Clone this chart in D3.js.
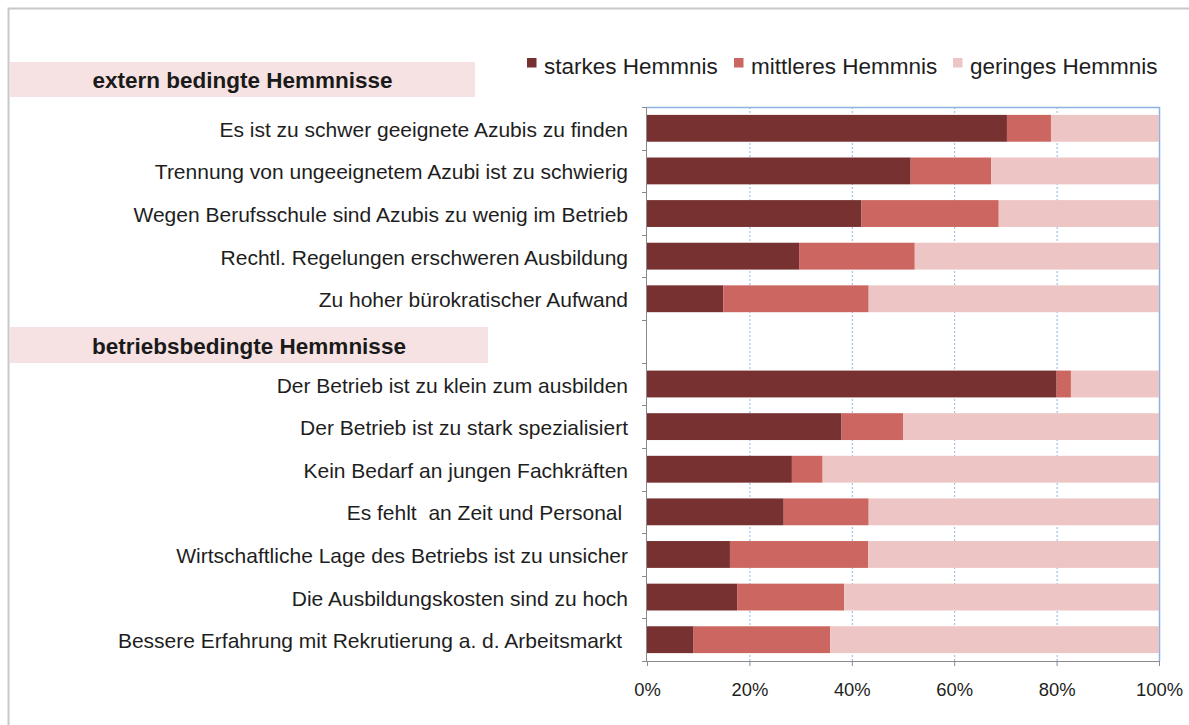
<!DOCTYPE html>
<html>
<head>
<meta charset="utf-8">
<script src="https://cdn.jsdelivr.net/npm/d3@7"></script>
<style>
  body { margin: 0; background: #fff; }
  svg text { font-family: "Liberation Sans", Arial, sans-serif; white-space: pre; }
</style>
</head>
<body>
<div id="chart"></div>
<script>
// categories, top to bottom ("" = row kept free for the second group header)
var categories = [
  "Es ist zu schwer geeignete Azubis zu finden",
  "Trennung von ungeeignetem Azubi ist zu schwierig",
  "Wegen Berufsschule sind Azubis zu wenig im Betrieb",
  "Rechtl. Regelungen erschweren Ausbildung",
  "Zu hoher bürokratischer Aufwand",
  "",
  "Der Betrieb ist zu klein zum ausbilden",
  "Der Betrieb ist zu stark spezialisiert",
  "Kein Bedarf an jungen Fachkräften",
  "Es fehlt  an Zeit und Personal ",
  "Wirtschaftliche Lage des Betriebs ist zu unsicher",
  "Die Ausbildungskosten sind zu hoch",
  "Bessere Erfahrung mit Rekrutierung a. d. Arbeitsmarkt "
];
var starkes    = [70.3, 51.5, 41.9, 29.7, 14.9, 0, 80.0, 38.0, 28.3, 26.7, 16.2, 17.6, 9.1];
var mittleres  = [8.6, 15.7, 26.8, 22.6, 28.4, 0, 2.8, 12.0, 6.0, 16.6, 27.0, 20.9, 26.7];
var geringes   = [21.1, 32.8, 31.3, 47.7, 56.7, 0, 17.2, 50.0, 65.7, 56.7, 56.8, 61.5, 64.2];
var seriesNames = ["starkes Hemmnis", "mittleres Hemmnis", "geringes Hemmnis"];
var groupHeaders = ["extern bedingte Hemmnisse", "betriebsbedingte Hemmnisse"];
var tickValues = [0, 20, 40, 60, 80, 100];

var colors = ["#763130", "#cc6660", "#edc5c4"];

var width = 1189, height = 725,
  plotLeft = 647, plotRight = 1159,
  plotTop = 107, plotBottom = 661;

var svg = d3.select("#chart").append("svg")
  .attr("width", width)
  .attr("height", height);

// outer frame
svg.append("path")
  .attr("d", "M8.5," + height + "V8.5H" + width)
  .attr("fill", "none")
  .attr("stroke", "#c8c8c8")
  .attr("stroke-width", 2);

var x = d3.scaleLinear().domain([0, 100]).range([plotLeft, plotRight]);
var y = d3.scaleBand()
  .domain(d3.range(categories.length))
  .range([plotTop, plotBottom])
  .paddingInner(0.37)
  .paddingOuter(0.185);

// group header bands
var headers = [
  { text: groupHeaders[0], x0: 10, x1: 475, y0: 62, y1: 97, base: 88 },
  { text: groupHeaders[1], x0: 10, x1: 488, y0: 327, y1: 363, base: 354 }
];
svg.selectAll("rect.header")
  .data(headers)
  .enter()
  .append("rect")
  .attr("class", "header")
  .attr("x", function(d) { return d.x0; })
  .attr("y", function(d) { return d.y0; })
  .attr("width", function(d) { return d.x1 - d.x0; })
  .attr("height", function(d) { return d.y1 - d.y0; })
  .attr("fill", "#f6e2e2");

svg.selectAll("text.header")
  .data(headers)
  .enter()
  .append("text")
  .attr("class", "header")
  .text(function(d) { return d.text; })
  .attr("x", function(d) { return (d.x0 + d.x1) / 2; })
  .attr("y", function(d) { return d.base; })
  .attr("text-anchor", "middle")
  .attr("font-size", "22.5px")
  .attr("font-weight", "bold")
  .attr("fill", "#1a1a1a");

// gridlines (dotted blue)
svg.selectAll("line.grid")
  .data(tickValues.slice(1, 5))
  .enter()
  .append("line")
  .attr("x1", function(d) { return x(d) + 0.5; })
  .attr("x2", function(d) { return x(d) + 0.5; })
  .attr("y1", plotTop)
  .attr("y2", plotBottom)
  .attr("stroke", "#8fb3e0")
  .attr("stroke-width", 1)
  .attr("stroke-dasharray", "2,2");

// top and right border of the plot area
svg.append("path")
  .attr("d", "M" + plotLeft + "," + (plotTop + 0.5) + "H" + (plotRight + 0.5) + "V" + plotBottom)
  .attr("fill", "none")
  .attr("stroke", "#8db3e2")
  .attr("stroke-width", 1.5);

// stacked bars
var rows = categories.map(function(c, i) {
  return { i: i, values: [starkes[i], mittleres[i], geringes[i]] };
});
var segments = [];
rows.forEach(function(r) {
  var acc = 0;
  r.values.forEach(function(v, k) {
    segments.push({ i: r.i, k: k, x0: acc, x1: acc + v });
    acc += v;
  });
});

svg.selectAll("rect.bar")
  .data(segments.filter(function(s) { return s.x1 > s.x0; }))
  .enter()
  .append("rect")
  .attr("class", "bar")
  .attr("x", function(d) { return x(d.x0); })
  .attr("y", function(d) { return y(d.i); })
  .attr("width", function(d) { return x(d.x1) - x(d.x0); })
  .attr("height", y.bandwidth())
  .attr("fill", function(d) { return colors[d.k]; });

// left axis: line, ticks at band boundaries, labels
var boundaries = d3.range(categories.length + 1).map(function(i) { return plotTop + i * y.step(); });
svg.append("line")
  .attr("x1", plotLeft - 0.5).attr("x2", plotLeft - 0.5)
  .attr("y1", plotTop).attr("y2", plotBottom)
  .attr("stroke", "#8a8a8a");
svg.selectAll("line.ytick")
  .data(boundaries)
  .enter()
  .append("line")
  .attr("x1", plotLeft - 5).attr("x2", plotLeft)
  .attr("y1", function(d) { return Math.round(d) + 0.5; })
  .attr("y2", function(d) { return Math.round(d) + 0.5; })
  .attr("stroke", "#8a8a8a");

svg.selectAll("text.cat")
  .data(categories)
  .enter()
  .append("text")
  .attr("class", "cat")
  .text(function(d) { return d; })
  .attr("x", 628)
  .attr("y", function(d, i) { return y(i) + y.bandwidth() / 2 + 8.5; })
  .attr("text-anchor", "end")
  .attr("font-size", "21px")
  .attr("fill", "#1e1e1e");

// bottom axis
var xAxis = d3.axisBottom(x)
  .tickValues(tickValues)
  .tickSize(5)
  .tickPadding(17)
  .tickFormat(function(d) { return d + "%"; });
var gx = svg.append("g")
  .attr("transform", "translate(0," + plotBottom + ")")
  .call(xAxis);
gx.select(".domain").attr("stroke", "#8a8a8a");
gx.selectAll(".tick line").attr("stroke", "#8a8a8a");
gx.selectAll(".tick text")
  .attr("font-size", "18.4px")
  .attr("fill", "#1e1e1e")
  .attr("font-family", "Liberation Sans, Arial, sans-serif");

// legend
var legendX = [527, 734, 953];
var legend = svg.selectAll("g.legend")
  .data(seriesNames)
  .enter()
  .append("g")
  .attr("class", "legend")
  .attr("transform", function(d, i) { return "translate(" + legendX[i] + ",58)"; });
legend.append("rect")
  .attr("width", 9.5)
  .attr("height", 9.5)
  .attr("fill", function(d, i) { return colors[i]; });
legend.append("text")
  .text(function(d) { return d; })
  .attr("x", 17)
  .attr("y", 16)
  .attr("font-size", "22.5px")
  .attr("fill", "#1e1e1e");
</script>
</body>
</html>
